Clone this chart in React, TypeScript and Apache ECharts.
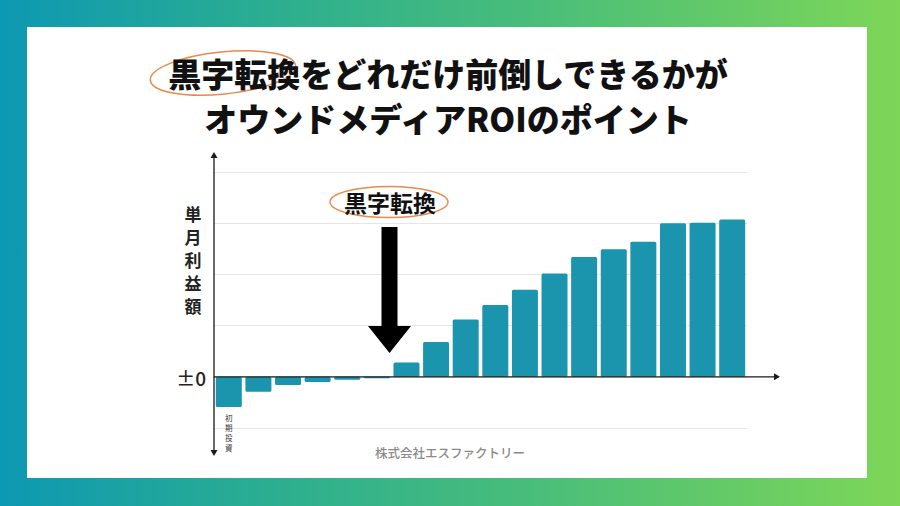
import React, { useEffect, useRef } from "react";
import * as echarts from "echarts";

const categories = ["1", "2", "3", "4", "5", "6", "7", "8", "9", "10", "11", "12", "13", "14", "15", "16", "17", "18"];
const profitValues = [-5.9, -2.9, -1.6, -1.0, -0.6, -0.3, 2.8, 6.8, 11.2, 14.0, 17.0, 20.2, 23.4, 24.9, 26.4, 30.0, 30.1, 30.7];
const barNotes = ["初期投資", "", "", "", "", "", "", "", "", "", "", "", "", "", "", "", "", ""];
const yTicks = { min: -10, max: 40, interval: 10 };

const titleLines = ["黒字転換をどれだけ前倒しできるかが", "オウンドメディアROIのポイント"];
const yAxisTitle = "単月利益額";
const zeroLabel = "±0";
const annotationText = "黒字転換";
const footerText = "株式会社エスファクトリー";

const FONT = '"Noto Sans CJK JP", "Noto Sans", sans-serif';
const BAR_COLOR = "#1b95ae";
const ORANGE = "#e98a4c";

export default function App() {
  const ref = useRef<HTMLDivElement>(null);

  useEffect(() => {
    if (!ref.current) return;
    const chart = echarts.init(ref.current, undefined, { renderer: "svg" });
    chart.setOption({
      animation: false,
      backgroundColor: "transparent",
      grid: { left: 214, right: 153, top: 172, bottom: 78, containLabel: false },
      xAxis: {
        type: "category",
        data: categories,
        axisLine: { show: false },
        axisTick: { show: false },
        axisLabel: {
          interval: 0,
          margin: -16,
          fontSize: 7.5,
          lineHeight: 10,
          color: "#333",
          fontFamily: FONT,
          verticalAlign: "top",
          formatter: (_v: string, i: number) => (barNotes[i] || "").split("").join("\n"),
        },
        splitLine: { show: false },
      },
      yAxis: {
        type: "value",
        min: yTicks.min,
        max: yTicks.max,
        interval: yTicks.interval,
        axisLine: { show: false },
        axisTick: { show: false },
        axisLabel: { show: false },
        splitLine: { show: true, lineStyle: { color: "#e6e6e6", width: 1 } },
      },
      series: [
        {
          type: "bar",
          data: profitValues,
          barWidth: 26,
          itemStyle: { color: BAR_COLOR, borderRadius: 1.5 },
        },
      ],
    });

    const y0 = chart.convertToPixel({ yAxisIndex: 0 }, 0) as number;
    const axisColor = "#1a1a1a";

    chart.setOption({
      graphic: [
        // title
        {
          type: "ellipse",
          x: 223,
          y: 73,
          rotation: 0.1,
          shape: { cx: 0, cy: 0, rx: 73, ry: 21 },
          style: { fill: "none", stroke: ORANGE, lineWidth: 1.5 },
          z: 5,
        },
        {
          type: "text",
          x: 448,
          y: 73,
          style: {
            text: titleLines[0],
            fontSize: 33,
            fontWeight: 900,
            fontFamily: FONT,
            fill: "#111",
            align: "center",
            verticalAlign: "middle",
          },
          z: 6,
        },
        {
          type: "text",
          x: 448,
          y: 118,
          style: {
            text: titleLines[1],
            fontSize: 33,
            fontWeight: 900,
            fontFamily: FONT,
            fill: "#111",
            align: "center",
            verticalAlign: "middle",
          },
          z: 6,
        },
        // y axis line with two arrows
        {
          type: "line",
          shape: { x1: 214, y1: 156, x2: 214, y2: 452 },
          style: { stroke: axisColor, lineWidth: 1.3 },
          z: 10,
        },
        {
          type: "polygon",
          shape: { points: [[214, 152], [210.5, 158], [217.5, 158]] },
          style: { fill: axisColor },
          z: 10,
        },
        {
          type: "polygon",
          shape: { points: [[214, 456], [210.5, 450], [217.5, 450]] },
          style: { fill: axisColor },
          z: 10,
        },
        // x axis line with arrow
        {
          type: "line",
          shape: { x1: 214, y1: y0, x2: 776, y2: y0 },
          style: { stroke: axisColor, lineWidth: 1.3 },
          z: 10,
        },
        {
          type: "polygon",
          shape: { points: [[780, y0], [774, y0 - 3.5], [774, y0 + 3.5]] },
          style: { fill: axisColor },
          z: 10,
        },
        // zero label
        {
          type: "text",
          x: 206,
          y: y0 + 1,
          style: {
            text: zeroLabel,
            fontSize: 19,
            fontWeight: 500,
            fontFamily: FONT,
            fill: "#222",
            align: "right",
            verticalAlign: "middle",
          },
        },
        // y axis title (vertical)
        {
          type: "text",
          x: 193,
          y: 202,
          style: {
            text: yAxisTitle.split("").join("\n"),
            fontSize: 17,
            lineHeight: 23,
            fontWeight: "bold",
            fontFamily: FONT,
            fill: "#222",
            align: "center",
            verticalAlign: "top",
          },
        },
        // annotation
        {
          type: "ellipse",
          shape: { cx: 389, cy: 202, rx: 59, ry: 15.5 },
          style: { fill: "none", stroke: ORANGE, lineWidth: 1.4 },
          z: 5,
        },
        {
          type: "text",
          x: 390,
          y: 202,
          style: {
            text: annotationText,
            fontSize: 23,
            fontWeight: "bold",
            fontFamily: FONT,
            fill: "#111",
            align: "center",
            verticalAlign: "middle",
          },
          z: 6,
        },
        {
          type: "polygon",
          shape: {
            points: [
              [381.5, 227],
              [397.5, 227],
              [397.5, 326],
              [411, 326],
              [389.5, 353],
              [368, 326],
              [381.5, 326],
            ],
          },
          style: { fill: "#000" },
          z: 6,
        },
        // footer
        {
          type: "text",
          x: 450,
          y: 452,
          style: {
            text: footerText,
            fontSize: 12.5,
            fontWeight: 500,
            fontFamily: FONT,
            fill: "#8a8a8a",
            align: "center",
            verticalAlign: "middle",
          },
        },
      ],
    });

    return () => chart.dispose();
  }, []);

  return (
    <div
      style={{
        position: "fixed",
        left: 0,
        top: 0,
        width: 900,
        height: 506,
        background: "linear-gradient(90deg, #0d98b3 0%, #2bae90 30%, #4cbf78 62%, #7dd657 100%)",
        overflow: "hidden",
      }}
    >
      <div
        style={{
          position: "absolute",
          left: 27,
          top: 27,
          width: 840,
          height: 451,
          background: "#ffffff",
        }}
      />
      <div ref={ref} style={{ position: "absolute", left: 0, top: 0, width: 900, height: 506 }} />
    </div>
  );
}
